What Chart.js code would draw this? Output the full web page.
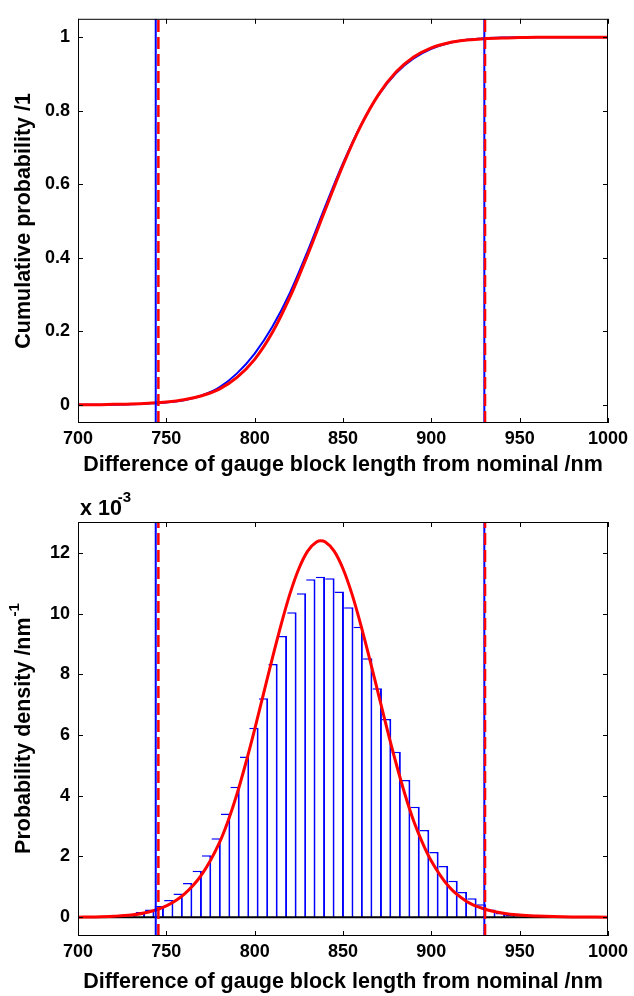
<!DOCTYPE html>
<html>
<head>
<meta charset="utf-8">
<script src="https://cdn.jsdelivr.net/npm/chart.js@4.4.1/dist/chart.umd.min.js"></script>
<style>
body { margin: 0; background: #fff; }
#wrap { position: relative; width: 634px; height: 996px; }
canvas { position: absolute; left: 0; }
#cdf-chart { top: 0; }
#pdf-chart { top: 490px; }
</style>
</head>
<body>
<div id="wrap">
  <canvas id="cdf-chart" width="634" height="490"></canvas>
  <canvas id="pdf-chart" width="634" height="506"></canvas>
</div>
<script>
// values

// top: cumulative probability
const xCdf = [700, 710, 720, 730, 740, 750, 760, 770, 780, 790, 800, 810, 820, 830, 840, 850, 860, 870, 880, 890, 900, 910, 920, 930, 940, 950, 960, 980, 1000];
const cdfBlue = [0, 0, 0, 0.001, 0.003, 0.006, 0.012, 0.025, 0.047, 0.085, 0.139, 0.212, 0.305, 0.418, 0.540, 0.657, 0.760, 0.842, 0.902, 0.942, 0.968, 0.984, 0.993, 0.997, 0.999, 1, 1, 1, 1];
const cdfRed = [0, 0, 0.001, 0.002, 0.004, 0.007, 0.013, 0.024, 0.042, 0.074, 0.123, 0.196, 0.293, 0.408, 0.531, 0.652, 0.758, 0.843, 0.905, 0.946, 0.971, 0.985, 0.992, 0.996, 0.998, 0.999, 1, 1, 1];

// bottom: probability density, in units of 10^-3 /nm
const xPdf = [700, 710, 720, 730, 740, 750, 760, 770, 780, 785, 790, 795, 800, 805, 810, 815, 820, 825, 830, 835, 837.5, 840, 845, 850, 855, 860, 865, 870, 875, 880, 885, 890, 895, 900, 910, 920, 930, 940, 950, 960, 980, 1000];
const pdfRed = [0, 0.01, 0.03, 0.07, 0.17, 0.37, 0.75, 1.40, 2.45, 3.18, 4.06, 5.08, 6.19, 7.36, 8.53, 9.65, 10.66, 11.48, 12.06, 12.36, 12.40, 12.36, 12.06, 11.48, 10.66, 9.65, 8.53, 7.36, 6.19, 5.08, 4.06, 3.17, 2.45, 1.85, 1.00, 0.52, 0.27, 0.14, 0.07, 0.04, 0.01, 0];
const binCenters = [729.9, 735.3, 740.6, 746.0, 751.4, 756.7, 762.1, 767.5, 772.8, 778.2, 783.6, 788.9, 794.3, 799.6, 805.0, 810.4, 815.7, 821.1, 826.5, 831.8, 837.2, 842.6, 847.9, 853.3, 858.6, 864.0, 869.4, 874.7, 880.1, 885.5, 890.8, 896.2, 901.5, 906.9, 912.3, 917.6, 923.0, 928.4, 933.7, 939.1, 944.5];
const binHeights = [0.10, 0.17, 0.25, 0.37, 0.57, 0.78, 1.13, 1.53, 2.04, 2.60, 3.42, 4.30, 5.29, 6.24, 7.21, 8.34, 9.26, 10.05, 10.67, 11.13, 11.22, 11.17, 10.73, 10.21, 9.57, 8.53, 7.54, 6.53, 5.45, 4.52, 3.64, 2.87, 2.15, 1.69, 1.20, 0.83, 0.62, 0.43, 0.25, 0.14, 0.07];

// coverage interval ends
const mcInterval = [744, 930];     // blue solid
const gumInterval = [745.5, 930.4]; // red dashed

const xTicks = [700, 750, 800, 850, 900, 950, 1000];
const cdfTicks = [0, 0.2, 0.4, 0.6, 0.8, 1];
const pdfTicks = [0, 2, 4, 6, 8, 10, 12];

const BLUE = '#0000ff';
const RED = '#ff0000';
const FONT = '"Liberation Sans", Arial, sans-serif';
const TITLE = 'bold 21.5px ' + FONT;
const SUP = 'bold 15px ' + FONT;
const xLabel = 'Difference of gauge block length from nominal /nm';

function vline(x, y0, y1, color, dash, order) {
    return {
        type: 'line',
        data: [{x: x, y: y0}, {x: x, y: y1}],
        borderColor: color,
        borderWidth: dash ? 2.5 : 2,
        borderDash: dash ? [12, 5] : [],
        pointRadius: 0,
        order: order
    };
}

// box round the plot with ticks pointing in, and the axis titles
function boxPlugin(opts) {
    return {
        id: 'box',
        afterDatasetsDraw(chart) {
            const {ctx, chartArea: a, scales} = chart;
            ctx.save();
            ctx.strokeStyle = '#000';
            ctx.lineWidth = 1;
            ctx.strokeRect(a.left + 0.5, a.top + 0.5, a.right - a.left - 1, a.bottom - a.top - 1);
            ctx.beginPath();
            xTicks.forEach(v => {
                const px = Math.round(scales.x.getPixelForValue(v)) + 0.5;
                ctx.moveTo(px, a.bottom); ctx.lineTo(px, a.bottom - 5);
                ctx.moveTo(px, a.top); ctx.lineTo(px, a.top + 5);
            });
            opts.yTicks.forEach(v => {
                const py = Math.round(scales.y.getPixelForValue(v)) + 0.5;
                ctx.moveTo(a.left, py); ctx.lineTo(a.left + 5, py);
                ctx.moveTo(a.right, py); ctx.lineTo(a.right - 5, py);
            });
            ctx.stroke();

            ctx.fillStyle = '#000';
            ctx.font = TITLE;
            ctx.textBaseline = 'middle';
            ctx.textAlign = 'center';
            ctx.fillText(xLabel, (a.left + a.right) / 2, a.bottom + opts.xTitleGap);

            // y title, rotated, with optional superscript
            ctx.save();
            ctx.translate(opts.yTitleX, (a.top + a.bottom) / 2);
            ctx.rotate(-Math.PI / 2);
            ctx.textAlign = 'left';
            ctx.font = TITLE;
            const w = ctx.measureText(opts.yTitle).width;
            let sw = 0;
            if (opts.ySup) {
                ctx.font = SUP;
                sw = ctx.measureText(opts.ySup).width;
            }
            const start = -(w + sw) / 2;
            ctx.font = TITLE;
            ctx.fillText(opts.yTitle, start, 0);
            if (opts.ySup) {
                ctx.font = SUP;
                ctx.fillText(opts.ySup, start + w + 1, -9);
            }
            ctx.restore();

            if (opts.exponent) {
                ctx.textAlign = 'left';
                ctx.textBaseline = 'alphabetic';
                ctx.font = TITLE;
                ctx.fillText('x 10', a.left + 2, a.top - 7);
                const w2 = ctx.measureText('x 10').width;
                ctx.font = SUP;
                ctx.fillText(opts.exponent, a.left + w2 - 2, a.top - 20);
            }
            ctx.restore();
        }
    };
}

function axes(yMin, yMax, yTicks, xHeight) {
    const tickFont = {family: FONT, size: 18, weight: 'bold'};
    return {
        x: {
            type: 'linear', min: 700, max: 1000, offset: false,
            grid: {display: false, drawTicks: false},
            border: {display: false},
            afterBuildTicks: s => { s.ticks = xTicks.map(v => ({value: v})); },
            afterFit: s => { s.height = xHeight; },
            ticks: {color: '#000', font: tickFont, padding: 5, maxRotation: 0, autoSkip: false, callback: v => String(v)}
        },
        y: {
            min: yMin, max: yMax,
            grid: {display: false, drawTicks: false},
            border: {display: false},
            afterBuildTicks: s => { s.ticks = yTicks.map(v => ({value: v})); },
            afterFit: s => { s.width = 78; },
            ticks: {color: '#000', font: tickFont, padding: 8, callback: v => String(v)}
        }
    };
}

// TOP: cumulative probability
new Chart(document.querySelector('#cdf-chart').getContext('2d'), {
    type: 'line',
    data: {
        datasets: [
            {data: xCdf.map((x, i) => ({x: x, y: cdfBlue[i]})), borderColor: BLUE, borderWidth: 2, pointRadius: 0, cubicInterpolationMode: 'monotone', order: 4},
            {data: xCdf.map((x, i) => ({x: x, y: cdfRed[i]})), borderColor: RED, borderWidth: 3, pointRadius: 0, cubicInterpolationMode: 'monotone', order: 3},
            vline(mcInterval[0], -0.05, 1.05, BLUE, false, 2),
            vline(mcInterval[1], -0.05, 1.05, BLUE, false, 2),
            vline(gumInterval[0], -0.05, 1.05, RED, true, 1),
            vline(gumInterval[1], -0.05, 1.05, RED, true, 1)
        ]
    },
    options: {
        responsive: false,
        animation: false,
        devicePixelRatio: 1,
        layout: {padding: {top: 10, right: 26, left: 0, bottom: 0}},
        plugins: {legend: {display: false}, tooltip: {enabled: false}},
        scales: axes(-0.05, 1.05, cdfTicks, 67)
    },
    plugins: [boxPlugin({yTicks: cdfTicks, yTitle: 'Cumulative probability /1', yTitleX: 24, xTitleGap: 42})]
});

// BOTTOM: histogram and density
new Chart(document.querySelector('#pdf-chart').getContext('2d'), {
    type: 'bar',
    data: {
        datasets: [
            {
                type: 'bar',
                data: binCenters.map((x, i) => ({x: x, y: binHeights[i]})),
                backgroundColor: '#ffffff',
                borderColor: BLUE,
                borderWidth: {left: 0, top: 1.5, right: 2, bottom: 0},
                borderSkipped: false,
                inflateAmount: 0,
                barPercentage: 1,
                categoryPercentage: 1,
                order: 10
            },
            {type: 'line', data: [{x: 700, y: 0}, {x: 1000, y: 0}], borderColor: '#000', borderWidth: 2, pointRadius: 0, order: 5},
            {type: 'line', data: xPdf.map((x, i) => ({x: x, y: pdfRed[i]})), borderColor: RED, borderWidth: 3, pointRadius: 0, cubicInterpolationMode: 'monotone', order: 3},
            vline(mcInterval[0], -0.62, 13.02, BLUE, false, 2),
            vline(mcInterval[1], -0.62, 13.02, BLUE, false, 2),
            vline(gumInterval[0], -0.62, 13.02, RED, true, 1),
            vline(gumInterval[1], -0.62, 13.02, RED, true, 1)
        ]
    },
    options: {
        responsive: false,
        animation: false,
        devicePixelRatio: 1,
        layout: {padding: {top: 32, right: 26, left: 0, bottom: 0}},
        plugins: {legend: {display: false}, tooltip: {enabled: false}},
        scales: axes(-0.62, 13.02, pdfTicks, 60)
    },
    plugins: [boxPlugin({yTicks: pdfTicks, yTitle: 'Probability density /nm', ySup: '-1', yTitleX: 24, xTitleGap: 46, exponent: '-3'})]
});
</script>
</body>
</html>
